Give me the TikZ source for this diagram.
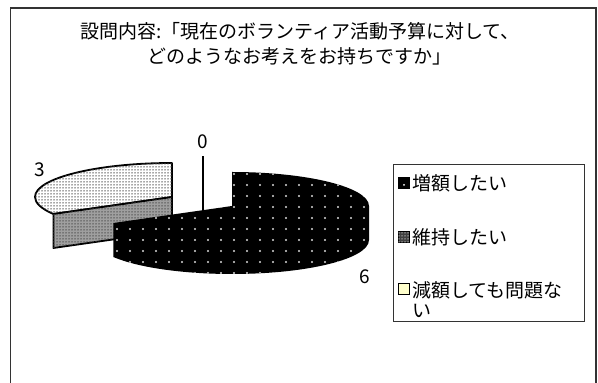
\documentclass[tikz,border=0pt]{standalone}
\usepackage{fontspec}
\setmainfont{Noto Sans CJK JP}
\usepackage{tikz}
\usetikzlibrary{patterns,patterns.meta}
\tikzdeclarepattern{
  name=sparsedots,
  type=uncolored,
  bounding box={(-2pt,-2pt) and (2pt,2pt)},
  tile size={(13pt,11pt)},
  code={\fill (0pt,0pt) circle (1.1pt);}
}
\tikzdeclarepattern{
  name=densedots,
  type=uncolored,
  bounding box={(-1pt,-1pt) and (1pt,1pt)},
  tile size={(3pt,3pt)},
  code={\fill (0pt,0pt) circle (0.75pt);}
}
\definecolor{paleyellow}{RGB}{255,255,204}

\begin{document}
\begin{tikzpicture}[x=1pt,y=1pt,
  txt/.style={font=\fontsize{19}{20}\selectfont, inner sep=0pt},
  legmark/.style={draw=black, line width=1.3pt, minimum size=11pt, inner sep=0pt},
  sliceedge/.style={draw=black, line width=1.8pt, line join=round}]
\useasboundingbox (0,0) rectangle (598,383);
\draw[line width=1.5pt, black!80] (10.5,0) -- (10.5,375) -- (596,375) -- (596,0);
\node[txt, align=center, font=\fontsize{19}{25}\selectfont] (title) at (300,339) {設問内容:「現在のボランティア活動予算に対して、\\どのようなお考えをお持ちですか」};
% pulled-out slice (3)
\filldraw[sliceedge, fill=white, postaction={pattern=densedots, pattern color=black!70}] (172,186) -- (172,220) arc[start angle=90, end angle=210, x radius=137, y radius=34] -- cycle;
\filldraw[sliceedge, fill=gray!75, postaction={pattern=densedots, pattern color=black!70}] (53.4,169) -- (172,186) -- (172,152) -- (53.4,135) -- cycle;
% big slice (6)
\fill[black, postaction={pattern=sparsedots, pattern color=white!85!black}] (232,177) -- (232,211) arc[start angle=90, end angle=0, x radius=137, y radius=34] -- ++(0,-34) arc[start angle=0, end angle=-150, x radius=137, y radius=34] -- ++(0,34) -- cycle;
\node[txt] (v0) at (203,241) {0};
\node[txt] (v3) at (40,213) {3};
\node[txt] (v6) at (365,106) {6};
\coordinate (tip0) at (203,171);
\draw[line width=1.5pt] ([yshift=-7pt]v0.south) -- (tip0);
% legend
\node[draw=black!80, line width=0.8pt, minimum width=191pt, minimum height=157pt, inner sep=0pt] (legend) at (488.5,140.5) {};
\node[legmark, fill=black] (m1) at (404,200) {};
\fill[white] ([yshift=-2pt]m1.center) circle (1pt);
\node[legmark, fill=black!75, postaction={pattern=densedots, pattern color=white!70!black}] (m2) at (404,146) {};
\node[legmark, fill=paleyellow] (m3) at (404,94) {};
\node[txt, anchor=west] (l1) at (412,200) {増額したい};
\node[txt, anchor=west] (l2) at (412,146) {維持したい};
\node[txt, anchor=north west, align=left] (l3) at (412,102) {減額しても問題な\\い};
\end{tikzpicture}
\end{document}
